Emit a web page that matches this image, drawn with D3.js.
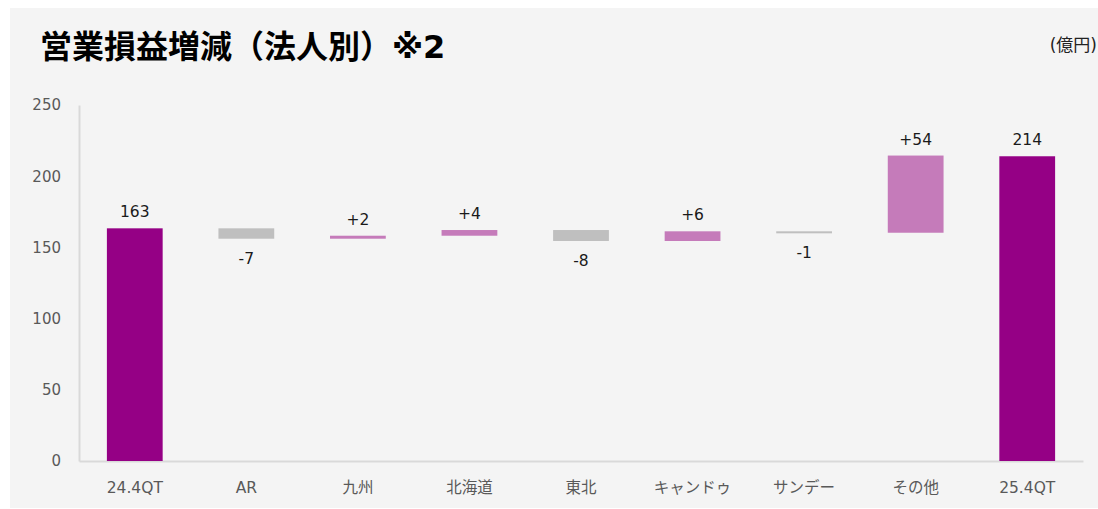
<!DOCTYPE html>
<html>
<head>
<meta charset="utf-8">
<script src="https://cdn.jsdelivr.net/npm/d3@7"></script>
<style>
  html, body { margin: 0; padding: 0; background: #ffffff; }
  svg { display: block; }
</style>
</head>
<body>
<svg id="chart" width="1098" height="509"></svg>
<script>
// ---- data ----
const categories = ["24.4QT", "AR", "九州", "北海道", "東北", "キャンドゥ", "サンデー", "その他", "25.4QT"];
const kinds      = ["total", "delta", "delta", "delta", "delta", "delta", "delta", "delta", "total"];
const values     = [163.4, -7.3, 2.1, 4.0, -7.7, 6.8, -1.0, 54.2, 214];
const valueLabels = ["163", "-7", "+2", "+4", "-8", "+6", "-1", "+54", "214"];
const yTicks = [0, 50, 100, 150, 200, 250];
const titleText = "営業損益増減（法人別）※2";
const unitText = "(億円)";

// ---- build waterfall rows ----
let running = 0;
const rows = categories.map((c, i) => {
  let lo, hi;
  if (kinds[i] === "total") {
    lo = 0; hi = values[i]; running = values[i];
  } else {
    const start = running, end = running + values[i];
    lo = Math.min(start, end); hi = Math.max(start, end);
    running = end;
  }
  return { cat: c, kind: kinds[i], value: values[i], lo, hi, label: valueLabels[i] };
});

const svg = d3.select("#chart");
const W = 1098, H = 509;
const font = "'DejaVu Sans', 'Noto Sans CJK JP', sans-serif";

// panel background
svg.append("rect").attr("x", 10).attr("y", 8).attr("width", W - 10).attr("height", 500).attr("fill", "#f4f4f4");

const x = d3.scaleBand().domain(categories).range([79, 1083]).paddingInner(0.5).paddingOuter(0.25);
const y = d3.scaleLinear().domain([0, 250]).range([461, 105]);

// title
svg.append("text").attr("x", 40).attr("y", 58)
  .attr("font-family", font).attr("font-weight", "bold").attr("font-size", 32)
  .attr("fill", "#000").text(titleText);

svg.append("text").attr("x", 1097).attr("y", 51).attr("text-anchor", "end")
  .attr("font-family", font).attr("font-size", 17).attr("fill", "#222").text(unitText);

// y axis
const yAxis = svg.append("g").attr("transform", "translate(79,0)")
  .call(d3.axisLeft(y).tickValues(yTicks).tickSize(0).tickPadding(18));
yAxis.select(".domain").attr("stroke", "#d9d9d9").attr("stroke-width", 2);
yAxis.selectAll("text").attr("font-family", font).attr("font-size", 15).attr("fill", "#595959");

// x axis
const xAxis = svg.append("g").attr("transform", "translate(0,461)")
  .call(d3.axisBottom(x).tickSize(0).tickPadding(21));
xAxis.select(".domain").attr("stroke", "#d9d9d9").attr("stroke-width", 2);
xAxis.selectAll("text").attr("font-family", font).attr("font-size", 15.5).attr("fill", "#595959");

const color = d => d.kind === "total" ? "#950085" : (d.value >= 0 ? "#c57bba" : "#bfbfbf");

// bars
svg.append("g").selectAll("rect").data(rows).join("rect")
  .attr("x", d => x(d.cat))
  .attr("width", x.bandwidth())
  .attr("y", d => y(d.hi))
  .attr("height", d => Math.max(2, y(d.lo) - y(d.hi)))
  .attr("fill", color);

// value labels
svg.append("g").selectAll("text").data(rows).join("text")
  .attr("x", d => x(d.cat) + x.bandwidth() / 2)
  .attr("y", d => (d.kind === "delta" && d.value < 0) ? y(d.lo) + 25 : y(d.hi) - 11)
  .attr("text-anchor", "middle")
  .attr("font-family", font).attr("font-size", 15.5).attr("fill", "#1a1a1a")
  .text(d => d.label);
</script>
</body>
</html>
